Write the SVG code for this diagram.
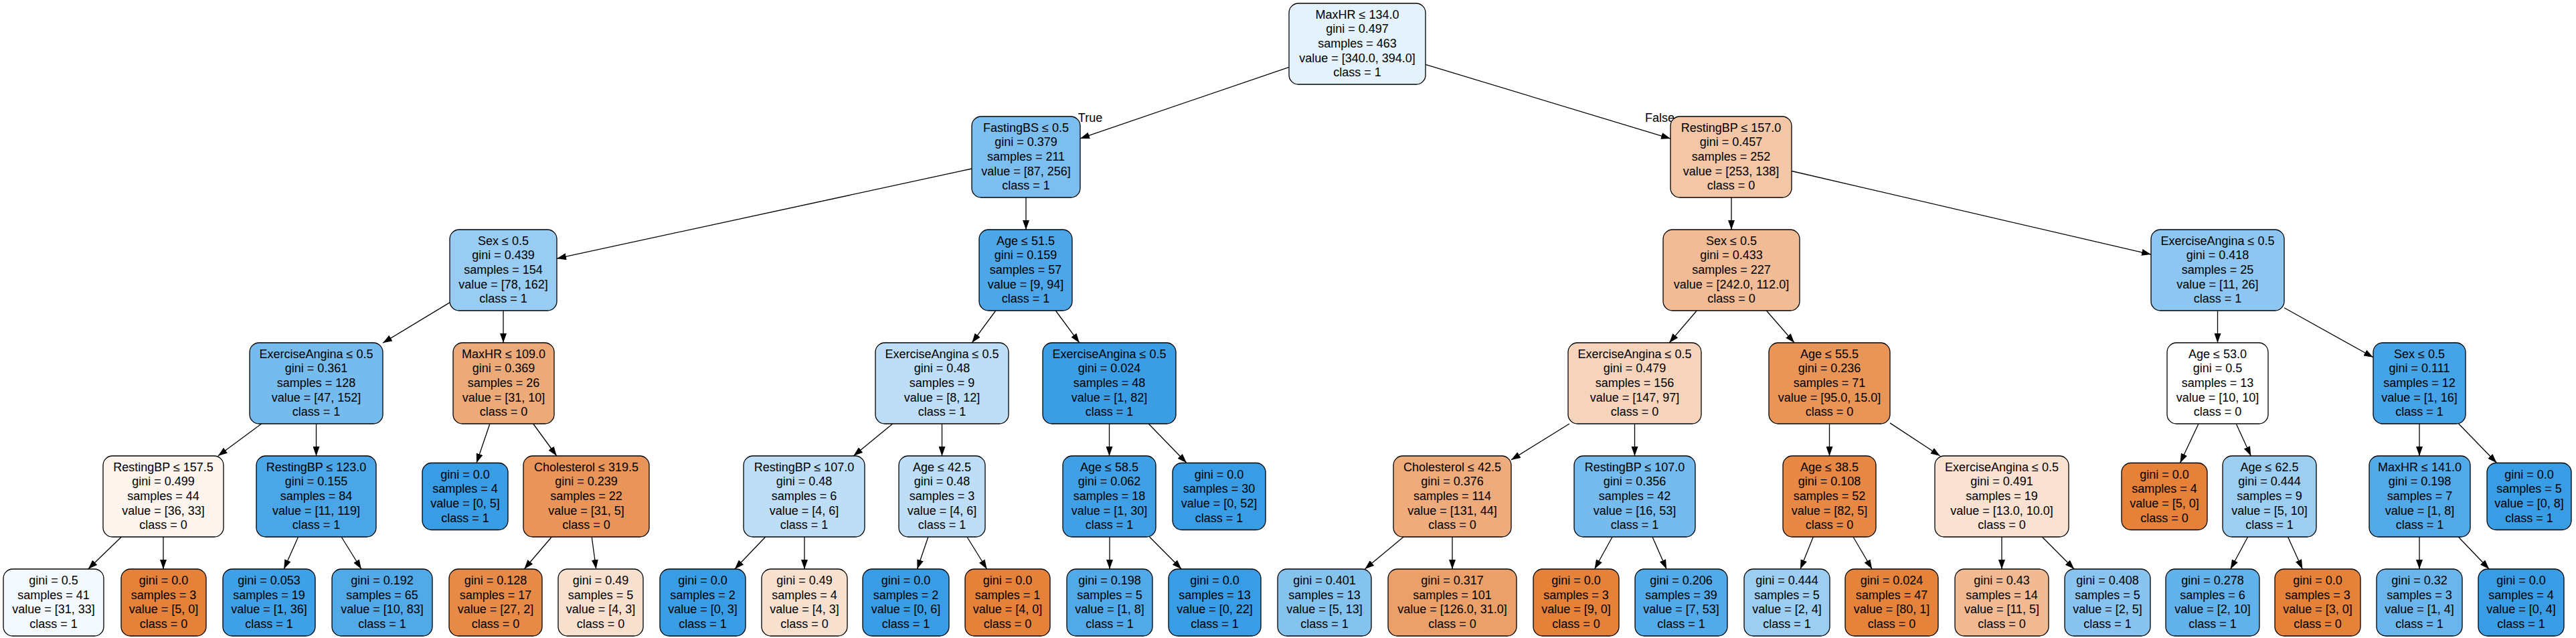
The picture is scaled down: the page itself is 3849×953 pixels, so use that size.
<svg xmlns="http://www.w3.org/2000/svg" width="3849" height="953" viewBox="0 0 3849 953">
<defs>
<style>
.nd{stroke:#000;stroke-width:1.3}
.t{font-family:"Liberation Sans",Arial,sans-serif;font-size:18px;text-anchor:middle;fill:#000}
#edges line{stroke:#000;stroke-width:1.3;marker-end:url(#ah)}
</style>
<marker id="ah" markerWidth="14" markerHeight="10" refX="14" refY="5" orient="auto" markerUnits="userSpaceOnUse"><path d="M0,0 L14,5 L0,10 z" fill="#000"/></marker>
</defs>
<rect width="3849" height="953" fill="#fff"/>
<g id="edges">
<line x1="1926" y1="100.3" x2="1614" y2="206.9"/>
<line x1="2130" y1="96.4" x2="2496" y2="207.1"/>
<line x1="1452" y1="252" x2="832" y2="386.2"/>
<line x1="1533" y1="295" x2="1533" y2="343"/>
<line x1="2587" y1="295" x2="2587" y2="343"/>
<line x1="2677" y1="255.5" x2="3214" y2="380.1"/>
<line x1="672" y1="451.9" x2="572" y2="512.3"/>
<line x1="752" y1="464" x2="752" y2="512"/>
<line x1="1487.8" y1="464" x2="1452.3" y2="512"/>
<line x1="1577.3" y1="464" x2="1612.8" y2="512"/>
<line x1="2535.3" y1="464" x2="2494.2" y2="512"/>
<line x1="2639.4" y1="464" x2="2681.1" y2="512"/>
<line x1="3313.5" y1="464" x2="3313.5" y2="512"/>
<line x1="3413" y1="459.8" x2="3546" y2="533.8"/>
<line x1="390.7" y1="633" x2="325.8" y2="681"/>
<line x1="472.5" y1="633" x2="472.5" y2="681"/>
<line x1="731.9" y1="633" x2="712" y2="691.5"/>
<line x1="796.7" y1="633" x2="831.8" y2="681"/>
<line x1="1333.8" y1="633" x2="1275.3" y2="681"/>
<line x1="1407.5" y1="633" x2="1407.5" y2="681"/>
<line x1="1657.5" y1="633" x2="1657.5" y2="681"/>
<line x1="1716.2" y1="633" x2="1773" y2="691.5"/>
<line x1="2344.9" y1="633" x2="2258" y2="686.9"/>
<line x1="2442.5" y1="633" x2="2442.5" y2="681"/>
<line x1="2733.5" y1="633" x2="2733.5" y2="681"/>
<line x1="2824" y1="631.9" x2="2898.8" y2="681"/>
<line x1="3285" y1="633" x2="3257.5" y2="691.5"/>
<line x1="3341.2" y1="633" x2="3363.3" y2="681"/>
<line x1="3615" y1="633" x2="3615" y2="681"/>
<line x1="3673.7" y1="633" x2="3730.5" y2="691.5"/>
<line x1="181.4" y1="802" x2="131.7" y2="850"/>
<line x1="244" y1="802" x2="244" y2="850"/>
<line x1="445.6" y1="802" x2="424.2" y2="850"/>
<line x1="510.1" y1="802" x2="539.9" y2="850"/>
<line x1="824.3" y1="802" x2="783.3" y2="850"/>
<line x1="884.2" y1="802" x2="890.7" y2="850"/>
<line x1="1143.7" y1="802" x2="1097.8" y2="850"/>
<line x1="1202" y1="802" x2="1202" y2="850"/>
<line x1="1386.9" y1="802" x2="1370.5" y2="850"/>
<line x1="1444.9" y1="802" x2="1474.6" y2="850"/>
<line x1="1658" y1="802" x2="1658" y2="850"/>
<line x1="1717.6" y1="802" x2="1765.3" y2="850"/>
<line x1="2097.1" y1="802" x2="2039.3" y2="850"/>
<line x1="2170" y1="802" x2="2170" y2="850"/>
<line x1="2409.1" y1="802" x2="2382.6" y2="850"/>
<line x1="2469" y1="802" x2="2490.1" y2="850"/>
<line x1="2709.3" y1="802" x2="2690" y2="850"/>
<line x1="2769" y1="802" x2="2797.2" y2="850"/>
<line x1="2991" y1="802" x2="2991" y2="850"/>
<line x1="3051.3" y1="802" x2="3099.2" y2="850"/>
<line x1="3358.6" y1="802" x2="3332.8" y2="850"/>
<line x1="3418.5" y1="802" x2="3440.3" y2="850"/>
<line x1="3615" y1="802" x2="3615" y2="850"/>
<line x1="3673.3" y1="802" x2="3719.2" y2="850"/>
<text class="t" x="1629" y="182">True</text>
<text class="t" x="2480" y="182">False</text>
</g>
<g id="n0"><rect class="nd" x="1926" y="5" width="204" height="121" rx="14" fill="#e4f2fb"/><text class="t" x="2028" y="27.7"><tspan>MaxHR ≤ 134.0</tspan><tspan x="2028" dy="21.67">gini = 0.497</tspan><tspan x="2028" dy="21.67">samples = 463</tspan><tspan x="2028" dy="21.67">value = [340.0, 394.0]</tspan><tspan x="2028" dy="21.67">class = 1</tspan></text></g>
<g id="n1"><rect class="nd" x="1452" y="174" width="162" height="121" rx="14" fill="#7cbeee"/><text class="t" x="1533" y="196.7"><tspan>FastingBS ≤ 0.5</tspan><tspan x="1533" dy="21.67">gini = 0.379</tspan><tspan x="1533" dy="21.67">samples = 211</tspan><tspan x="1533" dy="21.67">value = [87, 256]</tspan><tspan x="1533" dy="21.67">class = 1</tspan></text></g>
<g id="n2"><rect class="nd" x="2496" y="174" width="181" height="121" rx="14" fill="#f3c6a5"/><text class="t" x="2586.5" y="196.7"><tspan>RestingBP ≤ 157.0</tspan><tspan x="2586.5" dy="21.67">gini = 0.457</tspan><tspan x="2586.5" dy="21.67">samples = 252</tspan><tspan x="2586.5" dy="21.67">value = [253, 138]</tspan><tspan x="2586.5" dy="21.67">class = 0</tspan></text></g>
<g id="n3"><rect class="nd" x="672" y="343" width="160" height="121" rx="14" fill="#98ccf2"/><text class="t" x="752" y="365.7"><tspan>Sex ≤ 0.5</tspan><tspan x="752" dy="21.67">gini = 0.439</tspan><tspan x="752" dy="21.67">samples = 154</tspan><tspan x="752" dy="21.67">value = [78, 162]</tspan><tspan x="752" dy="21.67">class = 1</tspan></text></g>
<g id="n4"><rect class="nd" x="1463" y="343" width="139" height="121" rx="14" fill="#4ca6e7"/><text class="t" x="1532.5" y="365.7"><tspan>Age ≤ 51.5</tspan><tspan x="1532.5" dy="21.67">gini = 0.159</tspan><tspan x="1532.5" dy="21.67">samples = 57</tspan><tspan x="1532.5" dy="21.67">value = [9, 94]</tspan><tspan x="1532.5" dy="21.67">class = 1</tspan></text></g>
<g id="n5"><rect class="nd" x="2485" y="343" width="204" height="121" rx="14" fill="#f1bb95"/><text class="t" x="2587" y="365.7"><tspan>Sex ≤ 0.5</tspan><tspan x="2587" dy="21.67">gini = 0.433</tspan><tspan x="2587" dy="21.67">samples = 227</tspan><tspan x="2587" dy="21.67">value = [242.0, 112.0]</tspan><tspan x="2587" dy="21.67">class = 0</tspan></text></g>
<g id="n6"><rect class="nd" x="3214" y="343" width="199" height="121" rx="14" fill="#8dc6f0"/><text class="t" x="3313.5" y="365.7"><tspan>ExerciseAngina ≤ 0.5</tspan><tspan x="3313.5" dy="21.67">gini = 0.418</tspan><tspan x="3313.5" dy="21.67">samples = 25</tspan><tspan x="3313.5" dy="21.67">value = [11, 26]</tspan><tspan x="3313.5" dy="21.67">class = 1</tspan></text></g>
<g id="n7"><rect class="nd" x="373" y="512" width="199" height="121" rx="14" fill="#76bbed"/><text class="t" x="472.5" y="534.7"><tspan>ExerciseAngina ≤ 0.5</tspan><tspan x="472.5" dy="21.67">gini = 0.361</tspan><tspan x="472.5" dy="21.67">samples = 128</tspan><tspan x="472.5" dy="21.67">value = [47, 152]</tspan><tspan x="472.5" dy="21.67">class = 1</tspan></text></g>
<g id="n8"><rect class="nd" x="677" y="512" width="151" height="121" rx="14" fill="#edaa79"/><text class="t" x="752.5" y="534.7"><tspan>MaxHR ≤ 109.0</tspan><tspan x="752.5" dy="21.67">gini = 0.369</tspan><tspan x="752.5" dy="21.67">samples = 26</tspan><tspan x="752.5" dy="21.67">value = [31, 10]</tspan><tspan x="752.5" dy="21.67">class = 0</tspan></text></g>
<g id="n9"><rect class="nd" x="1308" y="512" width="199" height="121" rx="14" fill="#bddef6"/><text class="t" x="1407.5" y="534.7"><tspan>ExerciseAngina ≤ 0.5</tspan><tspan x="1407.5" dy="21.67">gini = 0.48</tspan><tspan x="1407.5" dy="21.67">samples = 9</tspan><tspan x="1407.5" dy="21.67">value = [8, 12]</tspan><tspan x="1407.5" dy="21.67">class = 1</tspan></text></g>
<g id="n10"><rect class="nd" x="1558" y="512" width="199" height="121" rx="14" fill="#3b9ee5"/><text class="t" x="1657.5" y="534.7"><tspan>ExerciseAngina ≤ 0.5</tspan><tspan x="1657.5" dy="21.67">gini = 0.024</tspan><tspan x="1657.5" dy="21.67">samples = 48</tspan><tspan x="1657.5" dy="21.67">value = [1, 82]</tspan><tspan x="1657.5" dy="21.67">class = 1</tspan></text></g>
<g id="n11"><rect class="nd" x="2343" y="512" width="199" height="121" rx="14" fill="#f6d4bc"/><text class="t" x="2442.5" y="534.7"><tspan>ExerciseAngina ≤ 0.5</tspan><tspan x="2442.5" dy="21.67">gini = 0.479</tspan><tspan x="2442.5" dy="21.67">samples = 156</tspan><tspan x="2442.5" dy="21.67">value = [147, 97]</tspan><tspan x="2442.5" dy="21.67">class = 0</tspan></text></g>
<g id="n12"><rect class="nd" x="2643" y="512" width="181" height="121" rx="14" fill="#e99558"/><text class="t" x="2733.5" y="534.7"><tspan>Age ≤ 55.5</tspan><tspan x="2733.5" dy="21.67">gini = 0.236</tspan><tspan x="2733.5" dy="21.67">samples = 71</tspan><tspan x="2733.5" dy="21.67">value = [95.0, 15.0]</tspan><tspan x="2733.5" dy="21.67">class = 0</tspan></text></g>
<g id="n13"><rect class="nd" x="3238" y="512" width="151" height="121" rx="14" fill="#ffffff"/><text class="t" x="3313.5" y="534.7"><tspan>Age ≤ 53.0</tspan><tspan x="3313.5" dy="21.67">gini = 0.5</tspan><tspan x="3313.5" dy="21.67">samples = 13</tspan><tspan x="3313.5" dy="21.67">value = [10, 10]</tspan><tspan x="3313.5" dy="21.67">class = 0</tspan></text></g>
<g id="n14"><rect class="nd" x="3546" y="512" width="138" height="121" rx="14" fill="#45a3e7"/><text class="t" x="3615" y="534.7"><tspan>Sex ≤ 0.5</tspan><tspan x="3615" dy="21.67">gini = 0.111</tspan><tspan x="3615" dy="21.67">samples = 12</tspan><tspan x="3615" dy="21.67">value = [1, 16]</tspan><tspan x="3615" dy="21.67">class = 1</tspan></text></g>
<g id="n15"><rect class="nd" x="154" y="681" width="180" height="121" rx="14" fill="#fdf4ee"/><text class="t" x="244" y="703.7"><tspan>RestingBP ≤ 157.5</tspan><tspan x="244" dy="21.67">gini = 0.499</tspan><tspan x="244" dy="21.67">samples = 44</tspan><tspan x="244" dy="21.67">value = [36, 33]</tspan><tspan x="244" dy="21.67">class = 0</tspan></text></g>
<g id="n16"><rect class="nd" x="383" y="681" width="179" height="121" rx="14" fill="#4ba6e7"/><text class="t" x="472.5" y="703.7"><tspan>RestingBP ≤ 123.0</tspan><tspan x="472.5" dy="21.67">gini = 0.155</tspan><tspan x="472.5" dy="21.67">samples = 84</tspan><tspan x="472.5" dy="21.67">value = [11, 119]</tspan><tspan x="472.5" dy="21.67">class = 1</tspan></text></g>
<g id="n17"><rect class="nd" x="631" y="691.5" width="128" height="100" rx="14" fill="#399de5"/><text class="t" x="695" y="714.5"><tspan>gini = 0.0</tspan><tspan x="695" dy="21.67">samples = 4</tspan><tspan x="695" dy="21.67">value = [0, 5]</tspan><tspan x="695" dy="21.67">class = 1</tspan></text></g>
<g id="n18"><rect class="nd" x="782" y="681" width="188" height="121" rx="14" fill="#e99559"/><text class="t" x="876" y="703.7"><tspan>Cholesterol ≤ 319.5</tspan><tspan x="876" dy="21.67">gini = 0.239</tspan><tspan x="876" dy="21.67">samples = 22</tspan><tspan x="876" dy="21.67">value = [31, 5]</tspan><tspan x="876" dy="21.67">class = 0</tspan></text></g>
<g id="n19"><rect class="nd" x="1111" y="681" width="181" height="121" rx="14" fill="#bddef6"/><text class="t" x="1201.5" y="703.7"><tspan>RestingBP ≤ 107.0</tspan><tspan x="1201.5" dy="21.67">gini = 0.48</tspan><tspan x="1201.5" dy="21.67">samples = 6</tspan><tspan x="1201.5" dy="21.67">value = [4, 6]</tspan><tspan x="1201.5" dy="21.67">class = 1</tspan></text></g>
<g id="n20"><rect class="nd" x="1343" y="681" width="129" height="121" rx="14" fill="#bddef6"/><text class="t" x="1407.5" y="703.7"><tspan>Age ≤ 42.5</tspan><tspan x="1407.5" dy="21.67">gini = 0.48</tspan><tspan x="1407.5" dy="21.67">samples = 3</tspan><tspan x="1407.5" dy="21.67">value = [4, 6]</tspan><tspan x="1407.5" dy="21.67">class = 1</tspan></text></g>
<g id="n21"><rect class="nd" x="1588" y="681" width="139" height="121" rx="14" fill="#40a0e6"/><text class="t" x="1657.5" y="703.7"><tspan>Age ≤ 58.5</tspan><tspan x="1657.5" dy="21.67">gini = 0.062</tspan><tspan x="1657.5" dy="21.67">samples = 18</tspan><tspan x="1657.5" dy="21.67">value = [1, 30]</tspan><tspan x="1657.5" dy="21.67">class = 1</tspan></text></g>
<g id="n22"><rect class="nd" x="1752" y="691.5" width="139" height="100" rx="14" fill="#399de5"/><text class="t" x="1821.5" y="714.5"><tspan>gini = 0.0</tspan><tspan x="1821.5" dy="21.67">samples = 30</tspan><tspan x="1821.5" dy="21.67">value = [0, 52]</tspan><tspan x="1821.5" dy="21.67">class = 1</tspan></text></g>
<g id="n23"><rect class="nd" x="2082" y="681" width="176" height="121" rx="14" fill="#eeab7c"/><text class="t" x="2170" y="703.7"><tspan>Cholesterol ≤ 42.5</tspan><tspan x="2170" dy="21.67">gini = 0.376</tspan><tspan x="2170" dy="21.67">samples = 114</tspan><tspan x="2170" dy="21.67">value = [131, 44]</tspan><tspan x="2170" dy="21.67">class = 0</tspan></text></g>
<g id="n24"><rect class="nd" x="2352" y="681" width="181" height="121" rx="14" fill="#75bbed"/><text class="t" x="2442.5" y="703.7"><tspan>RestingBP ≤ 107.0</tspan><tspan x="2442.5" dy="21.67">gini = 0.356</tspan><tspan x="2442.5" dy="21.67">samples = 42</tspan><tspan x="2442.5" dy="21.67">value = [16, 53]</tspan><tspan x="2442.5" dy="21.67">class = 1</tspan></text></g>
<g id="n25"><rect class="nd" x="2664" y="681" width="139" height="121" rx="14" fill="#e78945"/><text class="t" x="2733.5" y="703.7"><tspan>Age ≤ 38.5</tspan><tspan x="2733.5" dy="21.67">gini = 0.108</tspan><tspan x="2733.5" dy="21.67">samples = 52</tspan><tspan x="2733.5" dy="21.67">value = [82, 5]</tspan><tspan x="2733.5" dy="21.67">class = 0</tspan></text></g>
<g id="n26"><rect class="nd" x="2891" y="681" width="200" height="121" rx="14" fill="#f9e2d1"/><text class="t" x="2991" y="703.7"><tspan>ExerciseAngina ≤ 0.5</tspan><tspan x="2991" dy="21.67">gini = 0.491</tspan><tspan x="2991" dy="21.67">samples = 19</tspan><tspan x="2991" dy="21.67">value = [13.0, 10.0]</tspan><tspan x="2991" dy="21.67">class = 0</tspan></text></g>
<g id="n27"><rect class="nd" x="3170" y="691.5" width="128" height="100" rx="14" fill="#e58139"/><text class="t" x="3234" y="714.5"><tspan>gini = 0.0</tspan><tspan x="3234" dy="21.67">samples = 4</tspan><tspan x="3234" dy="21.67">value = [5, 0]</tspan><tspan x="3234" dy="21.67">class = 0</tspan></text></g>
<g id="n28"><rect class="nd" x="3321" y="681" width="140" height="121" rx="14" fill="#9ccef2"/><text class="t" x="3391" y="703.7"><tspan>Age ≤ 62.5</tspan><tspan x="3391" dy="21.67">gini = 0.444</tspan><tspan x="3391" dy="21.67">samples = 9</tspan><tspan x="3391" dy="21.67">value = [5, 10]</tspan><tspan x="3391" dy="21.67">class = 1</tspan></text></g>
<g id="n29"><rect class="nd" x="3540" y="681" width="151" height="121" rx="14" fill="#52a9e8"/><text class="t" x="3615.5" y="703.7"><tspan>MaxHR ≤ 141.0</tspan><tspan x="3615.5" dy="21.67">gini = 0.198</tspan><tspan x="3615.5" dy="21.67">samples = 7</tspan><tspan x="3615.5" dy="21.67">value = [1, 8]</tspan><tspan x="3615.5" dy="21.67">class = 1</tspan></text></g>
<g id="n30"><rect class="nd" x="3716" y="691.5" width="126" height="100" rx="14" fill="#399de5"/><text class="t" x="3779" y="714.5"><tspan>gini = 0.0</tspan><tspan x="3779" dy="21.67">samples = 5</tspan><tspan x="3779" dy="21.67">value = [0, 8]</tspan><tspan x="3779" dy="21.67">class = 1</tspan></text></g>
<g id="n31"><rect class="nd" x="5" y="850" width="150" height="100" rx="14" fill="#f3f9fd"/><text class="t" x="80" y="873"><tspan>gini = 0.5</tspan><tspan x="80" dy="21.67">samples = 41</tspan><tspan x="80" dy="21.67">value = [31, 33]</tspan><tspan x="80" dy="21.67">class = 1</tspan></text></g>
<g id="n32"><rect class="nd" x="181" y="850" width="127" height="100" rx="14" fill="#e58139"/><text class="t" x="244.5" y="873"><tspan>gini = 0.0</tspan><tspan x="244.5" dy="21.67">samples = 3</tspan><tspan x="244.5" dy="21.67">value = [5, 0]</tspan><tspan x="244.5" dy="21.67">class = 0</tspan></text></g>
<g id="n33"><rect class="nd" x="333" y="850" width="138" height="100" rx="14" fill="#3ea0e6"/><text class="t" x="402" y="873"><tspan>gini = 0.053</tspan><tspan x="402" dy="21.67">samples = 19</tspan><tspan x="402" dy="21.67">value = [1, 36]</tspan><tspan x="402" dy="21.67">class = 1</tspan></text></g>
<g id="n34"><rect class="nd" x="496" y="850" width="150" height="100" rx="14" fill="#51a9e8"/><text class="t" x="571" y="873"><tspan>gini = 0.192</tspan><tspan x="571" dy="21.67">samples = 65</tspan><tspan x="571" dy="21.67">value = [10, 83]</tspan><tspan x="571" dy="21.67">class = 1</tspan></text></g>
<g id="n35"><rect class="nd" x="671" y="850" width="139" height="100" rx="14" fill="#e78a48"/><text class="t" x="740.5" y="873"><tspan>gini = 0.128</tspan><tspan x="740.5" dy="21.67">samples = 17</tspan><tspan x="740.5" dy="21.67">value = [27, 2]</tspan><tspan x="740.5" dy="21.67">class = 0</tspan></text></g>
<g id="n36"><rect class="nd" x="834" y="850" width="127" height="100" rx="14" fill="#f8e0ce"/><text class="t" x="897.5" y="873"><tspan>gini = 0.49</tspan><tspan x="897.5" dy="21.67">samples = 5</tspan><tspan x="897.5" dy="21.67">value = [4, 3]</tspan><tspan x="897.5" dy="21.67">class = 0</tspan></text></g>
<g id="n37"><rect class="nd" x="986" y="850" width="128" height="100" rx="14" fill="#399de5"/><text class="t" x="1050" y="873"><tspan>gini = 0.0</tspan><tspan x="1050" dy="21.67">samples = 2</tspan><tspan x="1050" dy="21.67">value = [0, 3]</tspan><tspan x="1050" dy="21.67">class = 1</tspan></text></g>
<g id="n38"><rect class="nd" x="1138" y="850" width="128" height="100" rx="14" fill="#f8e0ce"/><text class="t" x="1202" y="873"><tspan>gini = 0.49</tspan><tspan x="1202" dy="21.67">samples = 4</tspan><tspan x="1202" dy="21.67">value = [4, 3]</tspan><tspan x="1202" dy="21.67">class = 0</tspan></text></g>
<g id="n39"><rect class="nd" x="1289" y="850" width="129" height="100" rx="14" fill="#399de5"/><text class="t" x="1353.5" y="873"><tspan>gini = 0.0</tspan><tspan x="1353.5" dy="21.67">samples = 2</tspan><tspan x="1353.5" dy="21.67">value = [0, 6]</tspan><tspan x="1353.5" dy="21.67">class = 1</tspan></text></g>
<g id="n40"><rect class="nd" x="1442" y="850" width="127" height="100" rx="14" fill="#e58139"/><text class="t" x="1505.5" y="873"><tspan>gini = 0.0</tspan><tspan x="1505.5" dy="21.67">samples = 1</tspan><tspan x="1505.5" dy="21.67">value = [4, 0]</tspan><tspan x="1505.5" dy="21.67">class = 0</tspan></text></g>
<g id="n41"><rect class="nd" x="1594" y="850" width="128" height="100" rx="14" fill="#52a9e8"/><text class="t" x="1658" y="873"><tspan>gini = 0.198</tspan><tspan x="1658" dy="21.67">samples = 5</tspan><tspan x="1658" dy="21.67">value = [1, 8]</tspan><tspan x="1658" dy="21.67">class = 1</tspan></text></g>
<g id="n42"><rect class="nd" x="1746" y="850" width="138" height="100" rx="14" fill="#399de5"/><text class="t" x="1815" y="873"><tspan>gini = 0.0</tspan><tspan x="1815" dy="21.67">samples = 13</tspan><tspan x="1815" dy="21.67">value = [0, 22]</tspan><tspan x="1815" dy="21.67">class = 1</tspan></text></g>
<g id="n43"><rect class="nd" x="1909" y="850" width="140" height="100" rx="14" fill="#85c3ef"/><text class="t" x="1979" y="873"><tspan>gini = 0.401</tspan><tspan x="1979" dy="21.67">samples = 13</tspan><tspan x="1979" dy="21.67">value = [5, 13]</tspan><tspan x="1979" dy="21.67">class = 1</tspan></text></g>
<g id="n44"><rect class="nd" x="2074" y="850" width="192" height="100" rx="14" fill="#eba06a"/><text class="t" x="2170" y="873"><tspan>gini = 0.317</tspan><tspan x="2170" dy="21.67">samples = 101</tspan><tspan x="2170" dy="21.67">value = [126.0, 31.0]</tspan><tspan x="2170" dy="21.67">class = 0</tspan></text></g>
<g id="n45"><rect class="nd" x="2291" y="850" width="128" height="100" rx="14" fill="#e58139"/><text class="t" x="2355" y="873"><tspan>gini = 0.0</tspan><tspan x="2355" dy="21.67">samples = 3</tspan><tspan x="2355" dy="21.67">value = [9, 0]</tspan><tspan x="2355" dy="21.67">class = 0</tspan></text></g>
<g id="n46"><rect class="nd" x="2443" y="850" width="138" height="100" rx="14" fill="#53aae8"/><text class="t" x="2512" y="873"><tspan>gini = 0.206</tspan><tspan x="2512" dy="21.67">samples = 39</tspan><tspan x="2512" dy="21.67">value = [7, 53]</tspan><tspan x="2512" dy="21.67">class = 1</tspan></text></g>
<g id="n47"><rect class="nd" x="2606" y="850" width="128" height="100" rx="14" fill="#9ccef2"/><text class="t" x="2670" y="873"><tspan>gini = 0.444</tspan><tspan x="2670" dy="21.67">samples = 5</tspan><tspan x="2670" dy="21.67">value = [2, 4]</tspan><tspan x="2670" dy="21.67">class = 1</tspan></text></g>
<g id="n48"><rect class="nd" x="2757" y="850" width="139" height="100" rx="14" fill="#e5833b"/><text class="t" x="2826.5" y="873"><tspan>gini = 0.024</tspan><tspan x="2826.5" dy="21.67">samples = 47</tspan><tspan x="2826.5" dy="21.67">value = [80, 1]</tspan><tspan x="2826.5" dy="21.67">class = 0</tspan></text></g>
<g id="n49"><rect class="nd" x="2921" y="850" width="140" height="100" rx="14" fill="#f1ba93"/><text class="t" x="2991" y="873"><tspan>gini = 0.43</tspan><tspan x="2991" dy="21.67">samples = 14</tspan><tspan x="2991" dy="21.67">value = [11, 5]</tspan><tspan x="2991" dy="21.67">class = 0</tspan></text></g>
<g id="n50"><rect class="nd" x="3085" y="850" width="128" height="100" rx="14" fill="#88c4ef"/><text class="t" x="3149" y="873"><tspan>gini = 0.408</tspan><tspan x="3149" dy="21.67">samples = 5</tspan><tspan x="3149" dy="21.67">value = [2, 5]</tspan><tspan x="3149" dy="21.67">class = 1</tspan></text></g>
<g id="n51"><rect class="nd" x="3236" y="850" width="140" height="100" rx="14" fill="#61b1ea"/><text class="t" x="3306" y="873"><tspan>gini = 0.278</tspan><tspan x="3306" dy="21.67">samples = 6</tspan><tspan x="3306" dy="21.67">value = [2, 10]</tspan><tspan x="3306" dy="21.67">class = 1</tspan></text></g>
<g id="n52"><rect class="nd" x="3399" y="850" width="128" height="100" rx="14" fill="#e58139"/><text class="t" x="3463" y="873"><tspan>gini = 0.0</tspan><tspan x="3463" dy="21.67">samples = 3</tspan><tspan x="3463" dy="21.67">value = [3, 0]</tspan><tspan x="3463" dy="21.67">class = 0</tspan></text></g>
<g id="n53"><rect class="nd" x="3551" y="850" width="128" height="100" rx="14" fill="#6ab6ec"/><text class="t" x="3615" y="873"><tspan>gini = 0.32</tspan><tspan x="3615" dy="21.67">samples = 3</tspan><tspan x="3615" dy="21.67">value = [1, 4]</tspan><tspan x="3615" dy="21.67">class = 1</tspan></text></g>
<g id="n54"><rect class="nd" x="3703" y="850" width="128" height="100" rx="14" fill="#399de5"/><text class="t" x="3767" y="873"><tspan>gini = 0.0</tspan><tspan x="3767" dy="21.67">samples = 4</tspan><tspan x="3767" dy="21.67">value = [0, 4]</tspan><tspan x="3767" dy="21.67">class = 1</tspan></text></g>
</svg>
